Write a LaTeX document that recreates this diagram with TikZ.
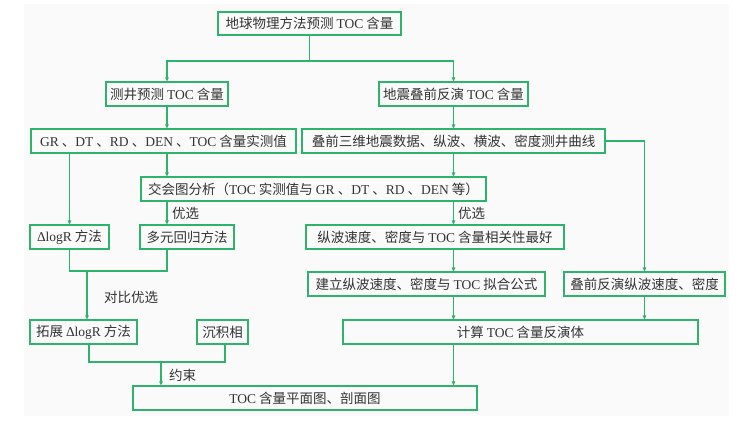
\documentclass[tikz,border=0pt]{standalone}
\usepackage{fontspec}
\setmainfont{Noto Sans CJK SC}
\newfontfamily\trm{Liberation Serif}
\usetikzlibrary{arrows.meta}
\definecolor{gr}{HTML}{2DB36B}
\definecolor{txt}{HTML}{333333}
\definecolor{bg}{HTML}{FAFAFA}
\newcommand{\tr}[1]{{\trm #1}}
\begin{document}
\begin{tikzpicture}[x=1pt,y=-1pt,
  box/.style={draw=gr,line width=1.2pt,inner sep=0pt,minimum height=24pt,text=txt,font=\fontsize{13.5}{16}\selectfont},
  ln/.style={draw=gr,line width=1.2pt},
  arr/.style={-{Triangle[length=4pt,width=3.5pt]}},
  lab/.style={anchor=west,inner sep=0pt,text=txt,font=\fontsize{13.5}{16}\selectfont}]
\useasboundingbox (0,0) rectangle (748,424);
\fill[bg] (24,4) rectangle (729,416);
% boxes
\node[box,minimum width=183pt,minimum height=23pt] (b1) at (309.5,23.5) {地球物理方法预测 \tr{TOC} 含量};
\node[box,minimum width=122pt] (b2) at (167,94) {测井预测 \tr{TOC} 含量};
\node[box,minimum width=149pt] (b3) at (453.5,94) {地震叠前反演 \tr{TOC} 含量};
\node[box,minimum width=265pt] (b4) at (163.5,141) {\tr{GR} 、\tr{DT} 、\tr{RD} 、\tr{DEN} 、\tr{TOC} 含量实测值};
\node[box,minimum width=303pt] (b5) at (453.5,141) {叠前三维地震数据、纵波、横波、密度测井曲线};
\node[box,minimum width=345pt] (b6) at (313.5,189) {交会图分析（\tr{TOC} 实测值与 \tr{GR} 、\tr{DT} 、\tr{RD} 、\tr{DEN} 等）};
\node[box,minimum width=79pt] (b7) at (69.5,237) {\tr{ΔlogR} 方法};
\node[box,minimum width=94pt] (b8) at (187,237) {多元回归方法};
\node[box,minimum width=258pt] (b9) at (435,237) {纵波速度、密度与 \tr{TOC} 含量相关性最好};
\node[box,minimum width=237pt] (b10) at (426.5,284) {建立纵波速度、密度与 \tr{TOC} 拟合公式};
\node[box,minimum width=161pt] (b11) at (644.5,284) {叠前反演纵波速度、密度};
\node[box,minimum width=355pt] (b12) at (520.5,332) {计算 \tr{TOC} 含量反演体};
\node[box,minimum width=107pt] (b13) at (83.5,332) {拓展 \tr{ΔlogR} 方法};
\node[box,minimum width=51pt] (b14) at (222.5,332) {沉积相};
\node[box,minimum width=344pt] (b15) at (305,398) {\tr{TOC} 含量平面图、剖面图};
% junction points
\coordinate (j1) at (309.5,61);
\coordinate (m1) at (69.5,271);
\coordinate (m2) at (167,271);
\coordinate (m3) at (87,271);
\coordinate (n1) at (89,362);
\coordinate (n2) at (225,362);
\coordinate (n3) at (161,362);
% connectors
\draw[ln] (b1.south) -- (j1);
\draw[ln,arr] (j1) -| (b2.north);
\draw[ln,arr] (j1) -| (b3.north);
\draw[ln,arr] (b2.south) -- (b2.south |- b4.north);
\draw[ln,arr] (b3.south) -- (b3.south |- b5.north);
\draw[ln,arr] (b5.east) -| (b11.north);
\draw[ln,arr] (b2.south |- b4.south) -- (b2.south |- b6.north);
\draw[ln,arr] (b3.south |- b5.south) -- (b3.south |- b6.north);
\draw[ln,arr] (b7.north |- b4.south) -- (b7.north);
\draw[ln,arr] (b2.south |- b6.south) -- (b2.south |- b8.north);
\draw[ln,arr] (b3.south |- b6.south) -- (b3.south |- b9.north);
\draw[ln] (b7.south) -- (m1) -- (m2) -- (m2 |- b8.south);
\draw[ln,arr] (m3) -- (m3 |- b13.north);
\draw[ln] (n1 |- b13.south) -- (n1) -- (n2) -- (n2 |- b14.south);
\draw[ln,arr] (n3) -- (n3 |- b15.north);
\draw[ln,arr] (b3.south |- b9.south) -- (b3.south |- b10.north);
\draw[ln,arr] (b3.south |- b10.south) -- (b3.south |- b12.north);
\draw[ln,arr] (b11.south) -- (b11.south |- b12.north);
\draw[ln,arr] (b3.south |- b12.south) -- (b3.south |- b15.north);
% labels
\node[lab] (l1) at (172,213) {优选};
\node[lab] (l2) at (458,213) {优选};
\node[lab] (l3) at (104,297) {对比优选};
\node[lab] (l4) at (169,375) {约束};
\end{tikzpicture}
\end{document}
